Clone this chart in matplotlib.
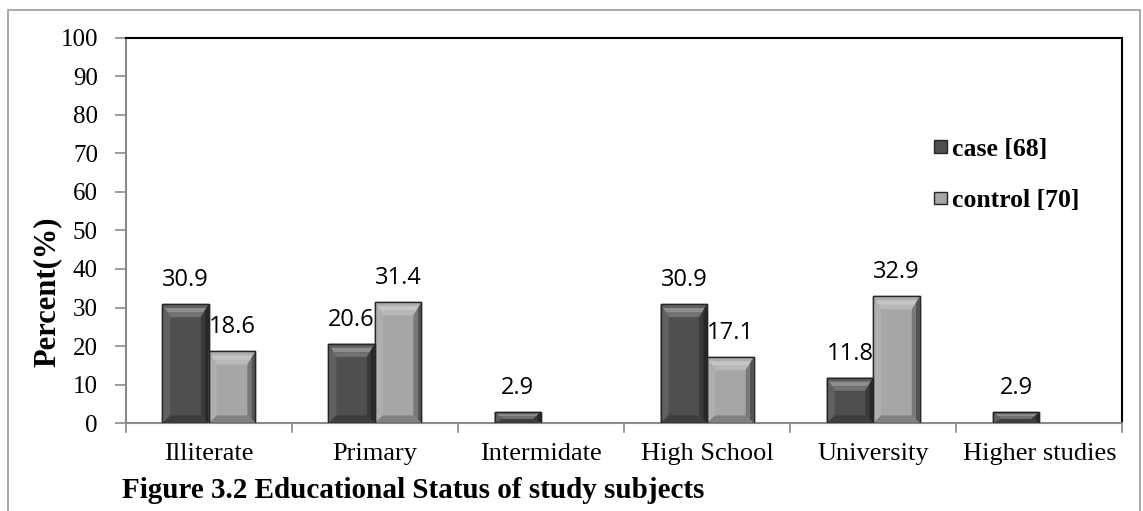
import numpy as np
import matplotlib
matplotlib.use('Agg')
import matplotlib.pyplot as plt
from matplotlib.patches import Polygon, Rectangle

categories = ['Illiterate', 'Primary', 'Intermidate', 'High School', 'University', 'Higher studies']
case_vals = [30.9, 20.6, 2.9, 30.9, 11.8, 2.9]
control_vals = [18.6, 31.4, 0.0, 17.1, 32.9, 0.0]
series_names = ['case [68]', 'control [70]']

serif = 'Liberation Serif'
sans = 'Open Sans'


def shade(color, f):
    c = np.array(matplotlib.colors.to_rgb(color))
    if f >= 0:
        c = c + (1 - c) * f
    else:
        c = c * (1 + f)
    return tuple(np.clip(c, 0, 1))


def facet(ax, pts, col):
    ax.add_patch(Polygon(pts, closed=True, facecolor=col, edgecolor='none', zorder=3))


def bevel_bar(ax, patch, base, bx, by_top, by_bot):
    # draw a bevelled look on top of a plain bar
    x0, y0 = patch.get_x(), patch.get_y()
    w, h = patch.get_width(), patch.get_height()
    if h <= 0:
        return
    x1, y1 = x0 + w, y0 + h
    scale = min(1.0, h / (by_top + by_bot))
    bt, bb = by_top * scale, by_bot * scale
    bx = min(bx, w / 2.0)
    ix0, ix1, iy0, iy1 = x0 + bx, x1 - bx, y0 + bb, y1 - bt

    def lerp(a, b, t):
        return a + (b - a) * t

    # top facet, in bands: darker at the rim, light band in the middle
    for t0, t1, f in [(0.0, 0.3, 0.10), (0.3, 0.65, 0.35), (0.65, 1.0, 0.20)]:
        ya, yb = lerp(y1, iy1, t0), lerp(y1, iy1, t1)
        facet(ax, [(lerp(x0, ix0, t0), ya), (lerp(x1, ix1, t0), ya),
                   (lerp(x1, ix1, t1), yb), (lerp(x0, ix0, t1), yb)], shade(base, f))
    # left facet
    facet(ax, [(x0, y0), (ix0, iy0), (ix0, iy1), (x0, y1)], shade(base, 0.10))
    # right facet, darker toward the outer edge
    for t0, t1, f in [(0.0, 0.5, -0.50), (0.5, 1.0, -0.28)]:
        facet(ax, [(lerp(x1, ix1, t0), lerp(y0, iy0, t0)), (lerp(x1, ix1, t0), lerp(y1, iy1, t0)),
                   (lerp(x1, ix1, t1), lerp(y1, iy1, t1)), (lerp(x1, ix1, t1), lerp(y0, iy0, t1))],
              shade(base, f))
    # bottom facet
    facet(ax, [(x0, y0), (x1, y0), (ix1, iy0), (ix0, iy0)], shade(base, -0.22))
    ax.add_patch(Rectangle((x0, y0), w, h, facecolor='none', edgecolor='#262626',
                           linewidth=1.0, zorder=4))


fig = plt.figure(figsize=(11.43, 5.11), dpi=100)
ax = fig.add_axes([0.110, 0.172, 0.872, 0.754])

# outer frame
fig.patches.append(Rectangle((8 / 1143, -0.01), 1132 / 1143, 1 - 10 / 511 + 0.01,
                             transform=fig.transFigure, fill=False,
                             edgecolor='#9a9a9a', linewidth=1.2))

x = np.arange(len(categories))
width = 0.28
colors = ['#4f4f4f', '#a6a6a6']
vals = [case_vals, control_vals]

for i, (v, col) in enumerate(zip(vals, colors)):
    offs = (i - 0.5) * width
    bars = ax.bar(x + offs, v, width, color=col, zorder=2, label=series_names[i],
                  edgecolor='#262626', linewidth=1.0)
    for b, val in zip(bars, v):
        bevel_bar(ax, b, col, 0.048, 3.4, 2.0)
        if val > 0:
            ax.text(b.get_x() + b.get_width() / 2, val + 3.1, '%.1f' % val,
                    ha='center', va='bottom', fontsize=17, family=sans)

ax.set_xlim(-0.5, len(categories) - 0.5)
ax.set_ylim(0, 100)
ax.set_yticks(np.arange(0, 101, 10))
ax.set_xticks(x)
ax.set_xticklabels(categories, family=serif, fontsize=19)
for lab in ax.get_yticklabels():
    lab.set_family(serif)
    lab.set_fontsize(18)
ax.tick_params(axis='x', length=0, pad=14)
ax.tick_params(axis='y', length=8, color='#8a8a8a', width=1.2, pad=12)

# category boundary ticks below the axis
for b in np.arange(-0.5, len(categories), 1.0):
    ax.plot([b, b], [0, -2.3], color='#8a8a8a', linewidth=1.2, clip_on=False, zorder=1)

for s in ['left', 'bottom']:
    ax.spines[s].set_color('#8a8a8a')
    ax.spines[s].set_linewidth(1.5)
for s in ['top', 'right']:
    ax.spines[s].set_color('black')
    ax.spines[s].set_linewidth(1.5)

ax.text(-0.079, 0.34, 'Percent(%)', transform=ax.transAxes, rotation=90,
        ha='center', va='center', family=serif, fontweight='bold', fontsize=22)

leg = ax.legend(loc='upper left', bbox_to_anchor=(0.788, 0.80), frameon=False,
                prop={'family': serif, 'weight': 'bold', 'size': 18.5},
                handlelength=0.5, handleheight=0.38, handletextpad=0.2, labelspacing=1.1)

fig.text(122 / 1143, 1 - 490 / 511, 'Figure 3.2 Educational Status of study subjects',
         family=serif, fontweight='bold', fontsize=21, va='center', ha='left')

fig.savefig('out.png', dpi=100)
